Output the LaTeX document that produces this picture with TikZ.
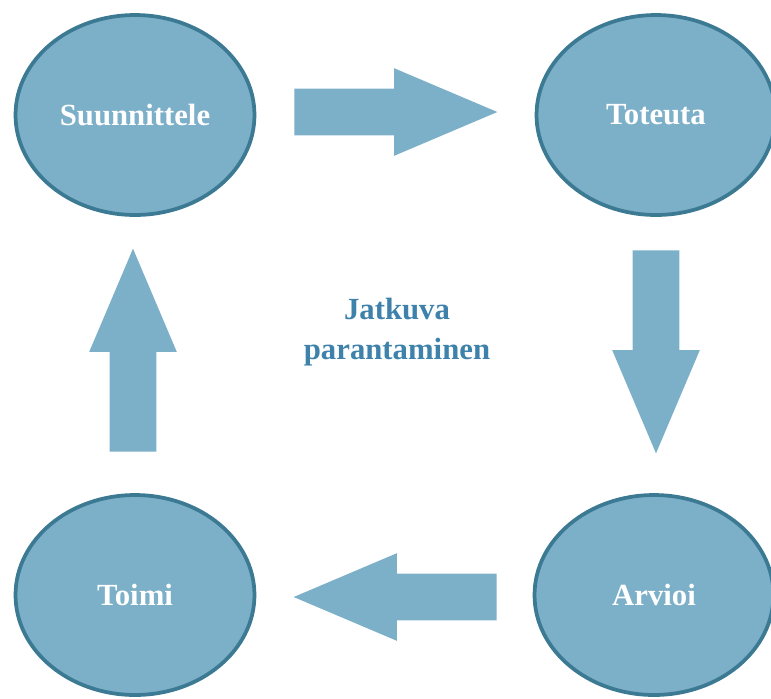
\documentclass[tikz,border=0pt]{standalone}
\usepackage{fontspec}
\setmainfont{Liberation Serif}
\usetikzlibrary{shapes.geometric, shapes.arrows}
\definecolor{phasefill}{RGB}{124,175,200}
\definecolor{phaseline}{RGB}{60,122,148}
\definecolor{midtext}{RGB}{62,130,172}

\begin{document}
\begin{tikzpicture}[x=0.02cm, y=-0.02cm,
    main/.style = {draw=phaseline, line width=0.075cm, fill=phasefill, ellipse,
        minimum width=4.78cm, minimum height=4.0cm, inner sep=0pt,
        text=white, font=\fontsize{17.5}{23}\selectfont\bfseries},
    flow/.style = {single arrow, fill=phasefill, draw=none, inner xsep=0pt, inner ysep=0.46cm,
        minimum height=4.06cm, minimum width=0pt, single arrow head extend=0.41cm,
        single arrow tip angle=46, anchor=tail}]
                \useasboundingbox (0, 0) rectangle (771, 698);

                \node[main] at (135, 115) (S) {Suunnittele};
                \node[main] at (656, 115) (T) {Toteuta};
                \node[main] at (654, 595) (A) {Arvioi};
                \node[main] at (135, 595) (M) {Toimi};

                \node[flow] at (294, 112) (ST) {};
                \node[flow, rotate=-90] at (656, 250) (TA) {};
                \node[flow, rotate=180] at (497, 597) (AM) {};
                \node[flow, rotate=90] at (133, 452) (MS) {};

                \node[text=midtext, align=center, font=\fontsize{17.5}{23}\selectfont\bfseries] at (397, 332) (JP) {Jatkuva\\parantaminen};
            \end{tikzpicture}
\end{document}
